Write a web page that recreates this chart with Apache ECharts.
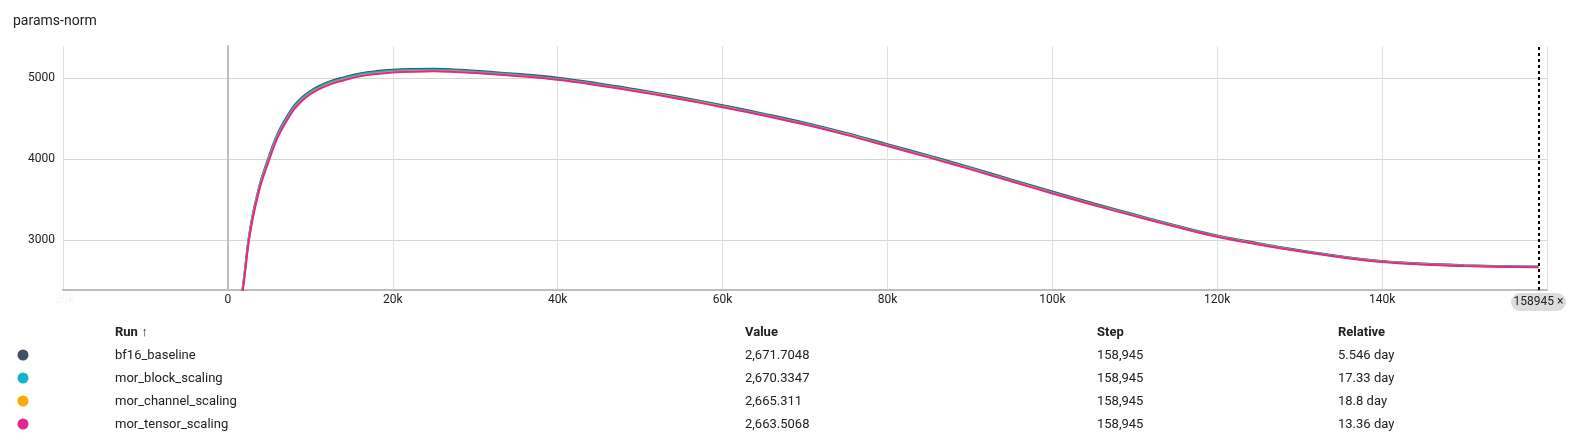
<!DOCTYPE html>
<html>
<head>
<meta charset="utf-8">
<title>params-norm</title>
<script src="https://cdn.jsdelivr.net/npm/echarts@6/dist/echarts.min.js"></script>
<style>
  html, body { margin: 0; padding: 0; background: #fff; }
  body { width: 1571px; height: 446px; position: relative; overflow: hidden; font-family: Roboto, 'Noto Sans', sans-serif; color: #212121; }
  #chart { position: absolute; left: 0; top: 0; width: 1571px; height: 446px; }
  .cell { position: absolute; font-size: 13px; line-height: 16px; white-space: nowrap; transform: translateY(-50%); }
  .head { font-weight: bold; }
  .dot { position: absolute; width: 11px; height: 11px; border-radius: 50%; transform: translate(-50%, -50%); }
</style>
</head>
<body>
<div id="chart"></div>
<div id="table"></div>
<script>
// run names + colours (tensorboard palette)
const runs = ['bf16_baseline', 'mor_block_scaling', 'mor_channel_scaling', 'mor_tensor_scaling']
const colors = ['#425066', '#12b5cb', '#f9ab00', '#e52592']

// step values shared by all runs
const steps = [1000, 1500, 2000, 2500, 3000, 3500, 4000, 5000, 6000, 7000, 8000, 9000, 10000, 11000,
  12500, 14000, 16000, 18000, 20000, 22500, 25000, 27500, 30000, 35000, 40000, 45000, 50000, 55000,
  60000, 65000, 70000, 75000, 80000, 85000, 90000, 95000, 100000, 105000, 110000, 115000, 120000,
  125000, 130000, 135000, 140000, 145000, 150000, 155000, 158945]

const bf16Baseline = [1745, 2175, 2575, 3005, 3305, 3535, 3735, 4040, 4308, 4497, 4655, 4763, 4840, 4899,
  4964, 5008, 5056, 5085, 5102, 5111, 5114, 5106, 5091, 5052, 5004, 4933, 4853, 4762,
  4664, 4560, 4449, 4322, 4184, 4044, 3899, 3748, 3598, 3453, 3315, 3181, 3057,
  2961, 2874, 2800, 2742, 2709, 2689, 2676, 2671.7048]
const morBlockScaling = [1735, 2165, 2565, 2995, 3295, 3525, 3725, 4025, 4293, 4481, 4640, 4748, 4826, 4885,
  4950, 4994, 5043, 5072, 5089, 5098, 5101, 5093, 5078, 5040, 4992, 4921, 4841, 4751,
  4653, 4549, 4438, 4311, 4173, 4033, 3888, 3737, 3587, 3443, 3306, 3173, 3049,
  2953, 2868, 2794, 2737, 2704, 2685, 2674, 2670.3347]
const morChannelScaling = [1708, 2138, 2538, 2968, 3268, 3498, 3698, 3998, 4268, 4457, 4617, 4727, 4806, 4866,
  4931, 4976, 5025, 5055, 5073, 5083, 5086, 5079, 5066, 5029, 4982, 4912, 4832, 4742,
  4644, 4540, 4429, 4302, 4164, 4024, 3879, 3729, 3579, 3435, 3298, 3166, 3043,
  2947, 2862, 2789, 2732, 2700, 2681, 2670, 2665.311]
const morTensorScaling = [1700, 2130, 2530, 2960, 3260, 3490, 3690, 3990, 4260, 4450, 4610, 4720, 4800, 4860,
  4925, 4970, 5020, 5050, 5068, 5078, 5082, 5075, 5062, 5025, 4978, 4908, 4828, 4738,
  4640, 4536, 4425, 4298, 4160, 4020, 3875, 3725, 3575, 3432, 3295, 3163, 3040,
  2945, 2860, 2787, 2730, 2698, 2679, 2668, 2663.5068]

const seriesValues = [bf16Baseline, morBlockScaling, morChannelScaling, morTensorScaling]

// y ticks
const yTicks = [3000, 4000, 5000]
const selectedStep = 158945

// table rows
const tableValues = ['2,671.7048', '2,670.3347', '2,665.311', '2,663.5068']
const tableSteps = ['158,945', '158,945', '158,945', '158,945']
const tableRelative = ['5.546 day', '17.33 day', '18.8 day', '13.36 day']

const chart = echarts.init(document.getElementById('chart'))

const series = runs.map((name, i) => {
  const s = {
    name: name,
    type: 'line',
    data: steps.map((st, j) => [st, seriesValues[i][j]]),
    smooth: 0.4,
    showSymbol: false,
    symbol: 'none',
    clip: true,
    lineStyle: { color: colors[i], width: 2 },
    itemStyle: { color: colors[i] },
    z: 3 + i
  }
  if (i === 0) {
    // darker zero line
    s.markLine = {
      silent: true,
      symbol: 'none',
      label: { show: false },
      data: [
        { xAxis: 0, lineStyle: { color: '#bdbdbd', width: 2, type: 'solid' } }
      ]
    }
  }
  if (i === 3) {
    s.markLine = {
      silent: true,
      symbol: 'none',
      label: { show: false },
      data: [
        { xAxis: selectedStep, lineStyle: { color: '#000', width: 2, type: [3, 3] } }
      ]
    }
  }
  return s
})

chart.setOption({
  animation: false,
  textStyle: { fontFamily: 'Roboto' },
  title: {
    text: 'params-norm',
    left: 13,
    top: 14,
    padding: 0,
    textStyle: { fontSize: 14, fontWeight: 'normal', color: '#212121', fontFamily: 'Roboto' }
  },
  grid: { left: 63, right: 24, top: 46, bottom: 156, containLabel: false },
  xAxis: {
    type: 'value',
    min: -20000,
    max: 160000,
    interval: 20000,
    axisLine: { show: true, lineStyle: { color: '#bdbdbd', width: 2 } },
    axisTick: { show: false },
    splitLine: { show: true, lineStyle: { color: '#e0e0e0', width: 1 } },
    axisLabel: {
      margin: 4,
      fontSize: 12,
      color: '#212121',
      showMaxLabel: false,
      formatter: function(v) {
        if (v === 0) return '0'
        if (v < 0) return '{faint|' + (v / 1000) + 'k}'
        return (v / 1000) + 'k'
      },
      rich: { faint: { color: '#f5f5f5', fontSize: 12 } }
    }
  },
  yAxis: {
    type: 'value',
    min: 2383,
    max: 5395,
    axisLine: { show: true, lineStyle: { color: '#bdbdbd', width: 2 } },
    axisTick: { show: false, customValues: yTicks },
    splitLine: { show: true, lineStyle: { color: '#d6d6d6', width: 1 } },
    axisLabel: {
      customValues: yTicks,
      margin: 8,
      fontSize: 12,
      color: '#212121',
      formatter: function(v) { return String(v) }
    }
  },
  graphic: [
    {
      type: 'group',
      left: 1511,
      top: 293,
      z: 100,
      children: [
        { type: 'rect', shape: { x: 0, y: 0, width: 55, height: 18, r: 9 }, style: { fill: '#dcdcdc' } },
        { type: 'text', x: 27.5, y: 9, style: { text: '158945 ×', fill: '#212121', font: '12px Roboto', align: 'center', verticalAlign: 'middle' } }
      ]
    }
  ],
  series: series
})

// run table under the chart
const table = document.getElementById('table')
const cols = [115, 745, 1097, 1338]
const headers = ['Run ↑', 'Value', 'Step', 'Relative']
let html = ''
headers.forEach((h, k) => {
  html += '<div class="cell head" style="left:' + cols[k] + 'px;top:332px">' + h + '</div>'
})
runs.forEach((r, i) => {
  const y = 355 + i * 23
  html += '<div class="dot" style="left:23px;top:' + y + 'px;background:' + colors[i] + '"></div>'
  html += '<div class="cell" style="left:' + cols[0] + 'px;top:' + y + 'px">' + r + '</div>'
  html += '<div class="cell" style="left:' + cols[1] + 'px;top:' + y + 'px">' + tableValues[i] + '</div>'
  html += '<div class="cell" style="left:' + cols[2] + 'px;top:' + y + 'px">' + tableSteps[i] + '</div>'
  html += '<div class="cell" style="left:' + cols[3] + 'px;top:' + y + 'px">' + tableRelative[i] + '</div>'
})
table.innerHTML = html
</script>
</body>
</html>
